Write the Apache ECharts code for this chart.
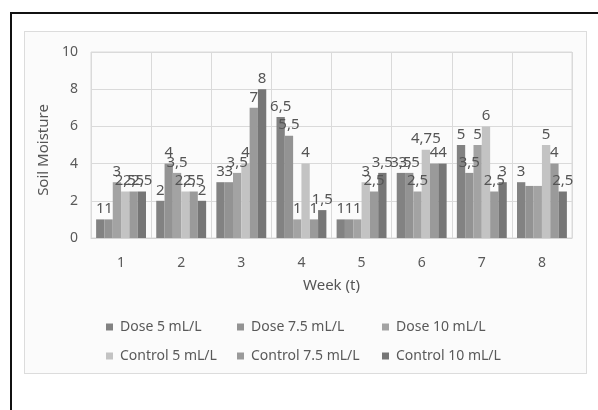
<!DOCTYPE html>
<html>
<head>
<meta charset="utf-8">
<script src="https://cdn.jsdelivr.net/npm/echarts@6/dist/echarts.min.js"></script>
<style>
  html, body { margin: 0; padding: 0; background: #fff; width: 598px; height: 410px; overflow: hidden; }
  #frame { position: absolute; left: 10px; top: 12px; width: 620px; height: 420px;
           border-left: 2px solid #111; border-top: 2px solid #111; }
  #chart { position: absolute; left: 24px; top: 31px; width: 561px; height: 341px;
           border: 1px solid #dcdcdc; background: #fbfbfb; }
</style>
</head>
<body>
<div id="frame"></div>
<div id="chart"></div>
<script>
// Soil moisture per week for each treatment
const weeks = ['1', '2', '3', '4', '5', '6', '7', '8'];
const seriesNames = ['Dose 5 mL/L', 'Dose 7.5 mL/L', 'Dose 10 mL/L',
                     'Control 5 mL/L', 'Control 7.5 mL/L', 'Control 10 mL/L'];
const dose5     = [1,   2,   3,   6.5, 1,   3.5,  5,   3];
const dose75    = [1,   4,   3,   5.5, 1,   3.5,  3.5, 2.8];
const dose10    = [3,   3.5, 3.5, 1,   1,   2.5,  5,   2.8];
const control5  = [2.5, 2.5, 4,   4,   3,   4.75, 6,   5];
const control75 = [2.5, 2.5, 7,   1,   2.5, 4,    2.5, 4];
const control10 = [2.5, 2,   8,   1.5, 3.5, 4,    3,   2.5];
const yTicks = [0, 2, 4, 6, 8, 10];
// bars drawn without a value label: [series index, week index]
const unlabeled = [[1, 7], [2, 7]];

const values = [dose5, dose75, dose10, control5, control75, control10];
const colors = ['#828282', '#939393', '#a3a3a3', '#c3c3c3', '#9a9a9a', '#767676'];
const FONT = 'Noto Sans';

const chart = echarts.init(document.getElementById('chart'), null, { renderer: 'canvas' });

const series = values.map((arr, si) => ({
  name: seriesNames[si],
  type: 'bar',
  data: arr,
  barGap: '0%',
  barCategoryGap: '17%',
  itemStyle: { color: colors[si] },
  label: {
    show: true,
    position: 'top',
    distance: 3,
    color: '#555',
    fontFamily: FONT,
    fontSize: 15,
    formatter: p => unlabeled.some(u => u[0] === si && u[1] === p.dataIndex)
      ? '' : String(p.value).replace('.', ',')
  }
}));

// three legend columns, two entries each
const legendCols = [
  [seriesNames[0], seriesNames[3]],
  [seriesNames[1], seriesNames[4]],
  [seriesNames[2], seriesNames[5]]
];
const legendLeft = [76, 207, 352];
const legends = legendCols.map((names, i) => ({
  data: names,
  orient: 'vertical',
  left: legendLeft[i],
  top: 283,
  itemGap: 15,
  itemWidth: 7,
  itemHeight: 7,
  icon: 'rect',
  selectedMode: false,
  textStyle: { color: '#595959', fontFamily: FONT, fontSize: 14, padding: [0, 0, 0, 2] }
}));

chart.setOption({
  animation: false,
  textStyle: { fontFamily: FONT },
  color: colors,
  grid: { left: 66, right: 14, top: 20, bottom: 135, show: true, borderColor: '#dadada', borderWidth: 1 },
  legend: legends,
  xAxis: {
    type: 'category',
    data: weeks,
    name: 'Week (t)',
    nameLocation: 'middle',
    nameGap: 40,
    nameTextStyle: { color: '#555', fontSize: 15, fontFamily: FONT },
    axisLine: { show: true, lineStyle: { color: '#d4d4d4' } },
    axisTick: { show: false },
    axisLabel: { color: '#595959', fontSize: 14, fontFamily: FONT, margin: 18 },
    splitLine: { show: true, lineStyle: { color: '#dadada' } }
  },
  yAxis: {
    type: 'value',
    min: yTicks[0],
    max: yTicks[yTicks.length - 1],
    interval: yTicks[1] - yTicks[0],
    name: 'Soil Moisture',
    nameLocation: 'middle',
    nameGap: 34,
    nameRotate: 90,
    nameTextStyle: { color: '#555', fontSize: 15, fontFamily: FONT, padding: [0, 10, 0, 0] },
    axisLine: { show: false },
    axisTick: { show: false },
    axisLabel: { color: '#595959', fontSize: 14, fontFamily: FONT, margin: 13 },
    splitLine: { show: true, lineStyle: { color: '#dadada' } }
  },
  series: series
});
</script>
</body>
</html>
